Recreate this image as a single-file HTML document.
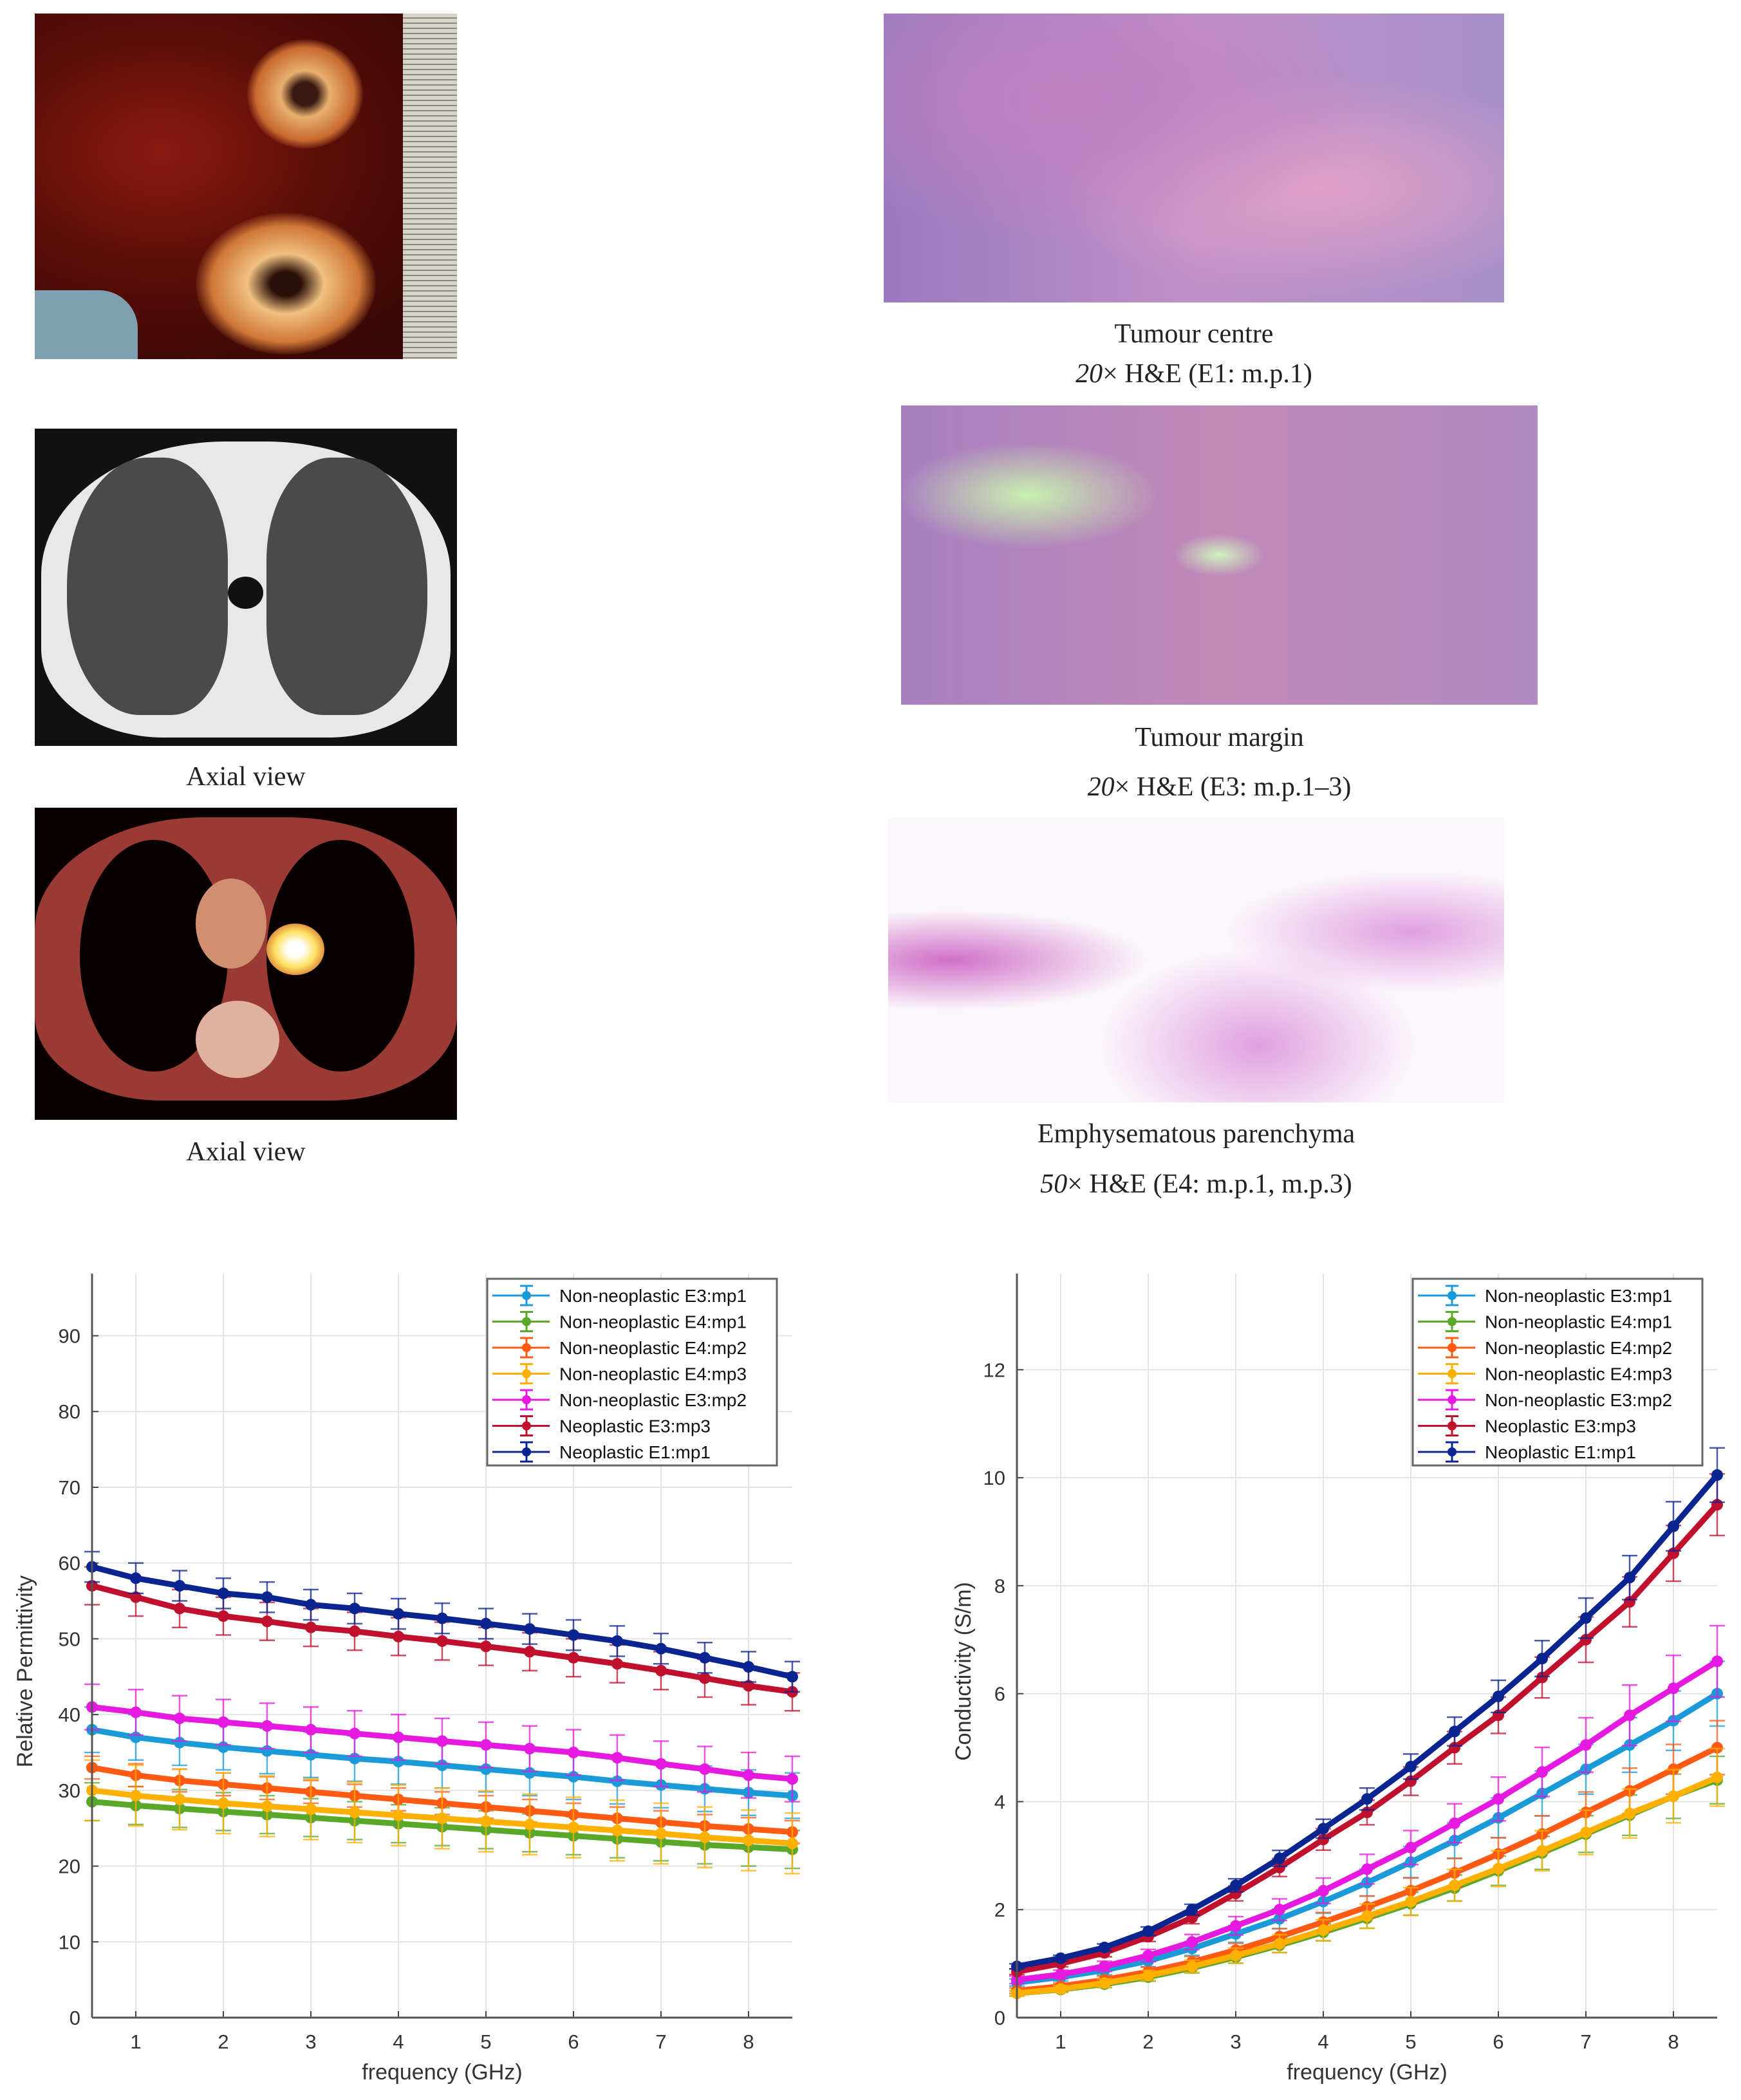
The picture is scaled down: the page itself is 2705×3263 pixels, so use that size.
<!DOCTYPE html>
<html><head><meta charset="utf-8">
<style>
html,body{margin:0;padding:0;background:#fff;}
body{width:2705px;height:3263px;position:relative;overflow:hidden;font-family:"Liberation Serif",serif;}
.cap{position:absolute;font-size:42px;color:#222;text-align:center;white-space:nowrap;}
.img{position:absolute;overflow:hidden;}
</style></head><body>

<div class="img" style="left:54px;top:21px;width:656px;height:537px;background:radial-gradient(ellipse at 30% 40%,#8a1a10 0%,#5a0e08 40%,#3a0805 80%);">
  <div style="position:absolute;left:330px;top:40px;width:180px;height:170px;border-radius:50%;background:radial-gradient(#3a1a10 15%,#e8b070 30%,#c86a30 60%,transparent 72%);"></div>
  <div style="position:absolute;left:250px;top:310px;width:280px;height:220px;border-radius:50%;background:radial-gradient(#2a1008 12%,#f0c080 30%,#d07838 58%,transparent 72%);"></div>
  <div style="position:absolute;left:0;top:430px;width:160px;height:110px;background:#7fa0b0;border-radius:0 60px 0 0;"></div>
  <div style="position:absolute;left:572px;top:0;width:84px;height:537px;background:repeating-linear-gradient(180deg,#d8d4c8 0 6px,#888 6px 8px);"></div>
</div>

<div class="img" style="left:54px;top:666px;width:656px;height:493px;background:#111;">
  <div style="position:absolute;left:10px;top:20px;width:636px;height:460px;border-radius:45% 45% 30% 30%;background:#e8e8e8;"></div>
  <div style="position:absolute;left:50px;top:45px;width:250px;height:400px;border-radius:50% 40% 35% 45%;background:#4a4a4a;"></div>
  <div style="position:absolute;left:360px;top:45px;width:250px;height:400px;border-radius:40% 50% 45% 35%;background:#4a4a4a;"></div>
  <div style="position:absolute;left:300px;top:230px;width:55px;height:50px;border-radius:50%;background:#111;"></div>
</div>
<div class="cap" style="left:54px;width:656px;top:1183px;">Axial view</div>

<div class="img" style="left:54px;top:1255px;width:656px;height:485px;background:#0a0000;">
  <div style="position:absolute;left:0;top:15px;width:656px;height:440px;border-radius:40% 40% 30% 30%;background:#9a3a35;"></div>
  <div style="position:absolute;left:70px;top:50px;width:230px;height:360px;border-radius:50%;background:#080000;"></div>
  <div style="position:absolute;left:360px;top:50px;width:230px;height:360px;border-radius:50%;background:#080000;"></div>
  <div style="position:absolute;left:250px;top:110px;width:110px;height:140px;border-radius:50%;background:#d09070;"></div>
  <div style="position:absolute;left:360px;top:180px;width:90px;height:80px;border-radius:50%;background:radial-gradient(#fff 20%,#ffe060 50%,#d07030 80%);"></div>
  <div style="position:absolute;left:250px;top:300px;width:130px;height:120px;border-radius:50%;background:#e0b0a0;"></div>
</div>
<div class="cap" style="left:54px;width:656px;top:1766px;">Axial view</div>

<div class="img" style="left:1373px;top:21px;width:964px;height:449px;background:radial-gradient(ellipse at 30% 30%,#c080c0,transparent 50%),radial-gradient(ellipse at 70% 60%,#e0a0c8,transparent 45%),linear-gradient(90deg,#9a7ac0,#c090c8 50%,#a890c8);"></div>
<div class="cap" style="left:1373px;width:964px;top:495px;">Tumour centre</div>
<div class="cap" style="left:1373px;width:964px;top:557px;"><i>20</i>× H&amp;E (E1: m.p.1)</div>

<div class="img" style="left:1400px;top:630px;width:989px;height:465px;background:radial-gradient(ellipse at 20% 30%,#c8f0b0,transparent 18%),radial-gradient(ellipse at 50% 50%,#d0f0c0,transparent 10%),linear-gradient(90deg,#a880c0,#c08ab8 50%,#b08ac0);"></div>
<div class="cap" style="left:1400px;width:989px;top:1122px;">Tumour margin</div>
<div class="cap" style="left:1400px;width:989px;top:1199px;"><i>20</i>× H&amp;E (E3: m.p.1–3)</div>

<div class="img" style="left:1380px;top:1271px;width:957px;height:442px;background:radial-gradient(ellipse at 10% 50%,#d070c8,transparent 25%),radial-gradient(ellipse at 60% 80%,#e0a0e0,transparent 30%),radial-gradient(ellipse at 85% 40%,#e0a0e0,transparent 25%),#fbf6fb;"></div>
<div class="cap" style="left:1380px;width:957px;top:1738px;">Emphysematous parenchyma</div>
<div class="cap" style="left:1380px;width:957px;top:1816px;"><i>50</i>× H&amp;E (E4: m.p.1, m.p.3)</div>

<svg id="charts" width="2705" height="3263" style="position:absolute;left:0;top:0;" xmlns="http://www.w3.org/2000/svg"></svg>

<script>
const freqs=[0.5,1,1.5,2,2.5,3,3.5,4,4.5,5,5.5,6,6.5,7,7.5,8,8.5];
const seriesNames=["Non-neoplastic E3:mp1","Non-neoplastic E4:mp1","Non-neoplastic E4:mp2","Non-neoplastic E4:mp3","Non-neoplastic E3:mp2","Neoplastic E3:mp3","Neoplastic E1:mp1"];
const seriesColors=["#1a9ad8","#5aa82a","#ff5a14","#ffb000","#e619e0","#c0102e","#0a2490"];
// permittivity
const permE3mp1=[38,37,36.3,35.7,35.2,34.7,34.2,33.8,33.3,32.8,32.3,31.8,31.2,30.7,30.2,29.7,29.3];
const permE4mp1=[28.5,28,27.6,27.2,26.8,26.4,26,25.6,25.2,24.8,24.4,24,23.6,23.2,22.8,22.5,22.2];
const permE4mp2=[33,32,31.3,30.8,30.3,29.8,29.3,28.8,28.3,27.8,27.3,26.8,26.3,25.8,25.3,24.9,24.5];
const permE4mp3=[30,29.3,28.8,28.3,27.9,27.5,27.1,26.7,26.3,25.9,25.5,25.1,24.7,24.3,23.8,23.4,23];
const permE3mp2=[41,40.3,39.5,39,38.5,38,37.5,37,36.5,36,35.5,35,34.3,33.5,32.8,32,31.5];
const permE3mp3=[57,55.5,54,53,52.3,51.5,51,50.3,49.7,49,48.3,47.5,46.7,45.8,44.8,43.8,43];
const permE1mp1=[59.5,58,57,56,55.5,54.5,54,53.3,52.7,52,51.3,50.5,49.7,48.7,47.5,46.3,45];
const permErr=[3,2.5,1.5,4,3,2.5,2];
// conductivity
const condE3mp1=[0.65,0.75,0.88,1.05,1.28,1.55,1.83,2.15,2.5,2.88,3.28,3.7,4.15,4.6,5.05,5.5,6.0];
const condE4mp1=[0.45,0.52,0.62,0.75,0.92,1.12,1.34,1.58,1.84,2.11,2.4,2.72,3.05,3.4,3.75,4.1,4.4];
const condE4mp2=[0.5,0.58,0.7,0.85,1.03,1.25,1.5,1.77,2.05,2.35,2.68,3.03,3.4,3.8,4.2,4.6,5.0];
const condE4mp3=[0.45,0.53,0.64,0.78,0.95,1.15,1.37,1.62,1.88,2.15,2.45,2.76,3.09,3.43,3.78,4.1,4.45];
const condE3mp2=[0.7,0.8,0.95,1.15,1.4,1.7,2.0,2.35,2.75,3.15,3.6,4.05,4.55,5.05,5.6,6.1,6.6];
const condE3mp3=[0.85,1.0,1.2,1.5,1.85,2.3,2.78,3.3,3.8,4.38,5.0,5.6,6.3,7.0,7.7,8.6,9.5];
const condE1mp1=[0.95,1.1,1.3,1.6,2.0,2.45,2.95,3.5,4.05,4.65,5.3,5.95,6.65,7.4,8.15,9.1,10.05];
const condErrFrac=[0.1,0.1,0.1,0.12,0.1,0.06,0.05];
const xTicks=[1,2,3,4,5,6,7,8];
const permTicks=[0,10,20,30,40,50,60,70,80,90];
const condTicks=[0,2,4,6,8,10,12];

const NS="http://www.w3.org/2000/svg";
const svg=document.getElementById('charts');
function mk(tag,attrs,parent){const e=document.createElementNS(NS,tag);for(const k in attrs)e.setAttribute(k,attrs[k]);(parent||svg).appendChild(e);return e;}

function chart(cfg){
  const g=mk('g',{});
  
  
  const X=f=>cfg.x0+(f-0.5)/8*(cfg.x1-cfg.x0);
  const Y=v=>cfg.y0-(v/cfg.ymax)*(cfg.y0-cfg.yTop);
  xTicks.forEach(t=>{
    const l=mk('line',{x1:X(t),x2:X(t),y1:cfg.yTop,y2:cfg.y0,stroke:'#e4e4e4','stroke-width':2},g);
    
    
    const tx=mk('text',{x:X(t),y:cfg.y0+48,'font-size':31,'text-anchor':'middle',fill:'#333','font-family':'Liberation Sans, sans-serif'},g);
    tx.textContent=t;
    
    
    mk('line',{x1:X(t),x2:X(t),y1:cfg.y0,y2:cfg.y0-10,stroke:'#444','stroke-width':2},g);
  });
  cfg.ticks.forEach(t=>{
    if(t>0){const l=mk('line',{x1:cfg.x0,x2:cfg.x1,y1:Y(t),y2:Y(t),stroke:'#e4e4e4','stroke-width':2},g);
    
    }
    mk('line',{x1:cfg.x0,x2:cfg.x0+10,y1:Y(t),y2:Y(t),stroke:'#444','stroke-width':2},g);
    const tx=mk('text',{x:cfg.x0-18,y:Y(t)+11,'font-size':31,'text-anchor':'end',fill:'#333','font-family':'Liberation Sans, sans-serif'},g);
    tx.textContent=t;
    
    
  });
  cfg.series.forEach((vals,i)=>{
    const c=seriesColors[i];
    const sg=mk('g',{},g);
    
    
    vals.forEach((v,j)=>{
      const e=cfg.err(i,v);const x=X(freqs[j]);
      mk('line',{x1:x,x2:x,y1:Y(v-e),y2:Y(v+e),stroke:c,'stroke-width':2.5,opacity:0.75},sg);
      mk('line',{x1:x-12,x2:x+12,y1:Y(v-e),y2:Y(v-e),stroke:c,'stroke-width':2.5,opacity:0.75},sg);
      mk('line',{x1:x-12,x2:x+12,y1:Y(v+e),y2:Y(v+e),stroke:c,'stroke-width':2.5,opacity:0.75},sg);
    });
    mk('polyline',{points:vals.map((v,j)=>X(freqs[j])+','+Y(v)).join(' '),fill:'none',stroke:c,'stroke-width':9},sg);
    vals.forEach((v,j)=>{const p=mk('circle',{cx:X(freqs[j]),cy:Y(v),r:9,fill:c},sg);
      
      });
  });
  mk('line',{x1:cfg.x0,x2:cfg.x0,y1:cfg.yTop,y2:cfg.y0,stroke:'#555','stroke-width':3},g);
  mk('line',{x1:cfg.x0,x2:cfg.x1,y1:cfg.y0,y2:cfg.y0,stroke:'#555','stroke-width':3},g);
  const xt=mk('text',{x:(cfg.x0+cfg.x1)/2,y:cfg.y0+96,'font-size':34,'text-anchor':'middle',fill:'#333','font-family':'Liberation Sans, sans-serif'},g);
  xt.textContent='frequency (GHz)';
  
  
  const yc=(cfg.yTop+cfg.y0)/2+40;
  const yt=mk('text',{x:cfg.ytx,y:yc,'font-size':34,'text-anchor':'middle',fill:'#333','font-family':'Liberation Sans, sans-serif',transform:'rotate(-90 '+cfg.ytx+' '+yc+')'},g);
  yt.textContent=cfg.ytitle;
  
  
  // legend
  const lg=mk('g',{},g);
  
  
  mk('rect',{x:cfg.lx,y:1987,width:450,height:290,fill:'#fff',stroke:'#666','stroke-width':3},lg);
  seriesNames.forEach((n,i)=>{
    const yy=2013+i*40.5;const c=seriesColors[i];
    const eg=mk('g',{},lg);
    
    
    mk('line',{x1:cfg.lx+8,x2:cfg.lx+97,y1:yy,y2:yy,stroke:c,'stroke-width':3},eg);
    mk('line',{x1:cfg.lx+61,x2:cfg.lx+61,y1:yy-15,y2:yy+15,stroke:c,'stroke-width':3},eg);
    mk('line',{x1:cfg.lx+51,x2:cfg.lx+71,y1:yy-15,y2:yy-15,stroke:c,'stroke-width':3},eg);
    mk('line',{x1:cfg.lx+51,x2:cfg.lx+71,y1:yy+15,y2:yy+15,stroke:c,'stroke-width':3},eg);
    mk('circle',{cx:cfg.lx+61,cy:yy,r:7,fill:c},eg);
    const t=mk('text',{x:cfg.lx+112,y:yy+10,'font-size':28,fill:'#111','font-family':'Liberation Sans, sans-serif'},eg);
    t.textContent=n;
  });
}
chart({name:'permittivity-chart',x0:143,x1:1231,y0:3135,yTop:1979,ymax:98.2,ticks:permTicks,
  series:[permE3mp1,permE4mp1,permE4mp2,permE4mp3,permE3mp2,permE3mp3,permE1mp1],
  err:(i,v)=>permErr[i],ytitle:'Relative Permittivity',ytx:50,lx:757});
chart({name:'conductivity-chart',x0:1580,x1:2668,y0:3135,yTop:1979,ymax:13.78,ticks:condTicks,
  series:[condE3mp1,condE4mp1,condE4mp2,condE4mp3,condE3mp2,condE3mp3,condE1mp1],
  err:(i,v)=>v*condErrFrac[i],ytitle:'Conductivity (S/m)',ytx:1508,lx:2195});
</script>
</body></html>
